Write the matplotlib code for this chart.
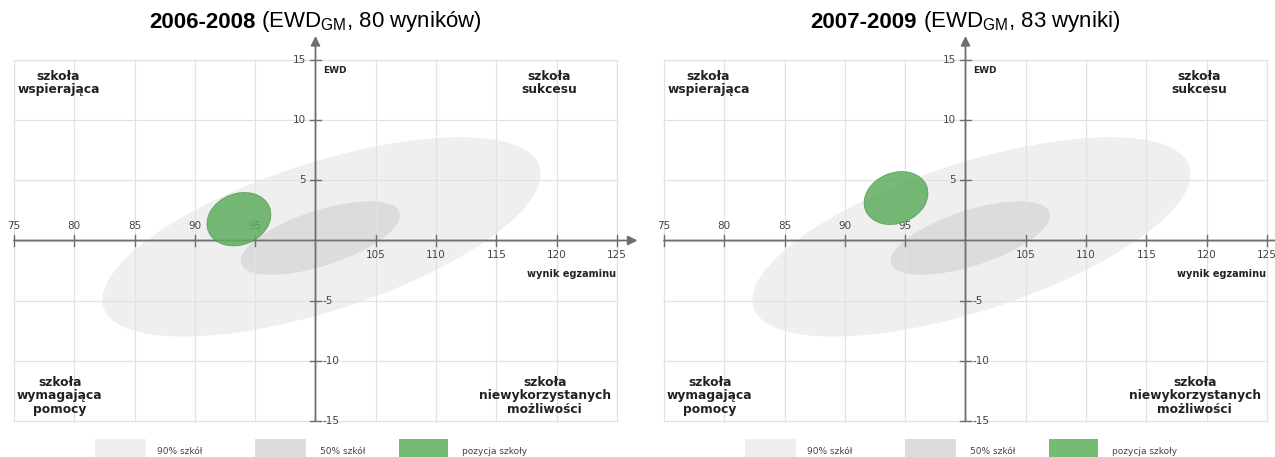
import matplotlib
matplotlib.use("Agg")
import matplotlib.pyplot as plt
from matplotlib.patches import Ellipse, Rectangle
from matplotlib.offsetbox import TextArea, HPacker, AnnotationBbox

# --- data ---
title_years = ["2006-2008", "2007-2009"]
title_rest = [" (EWD$_{\\mathregular{GM}}$, 80 wyników)",
              " (EWD$_{\\mathregular{GM}}$, 83 wyniki)"]

x_ticks = [75, 80, 85, 90, 95, 105, 110, 115, 120, 125]
y_ticks = [15, 10, 5, -5, -10, -15]

# ellipses: (center x, center y, width, height, angle)
ellipse_90 = [(100.5, 0.3, 38.0, 12.3, 18), (100.5, 0.3, 38.0, 12.3, 18)]
ellipse_50 = [(100.4, 0.2, 13.8, 4.6, 18), (100.4, 0.2, 13.8, 4.6, 18)]
school_pos = [(93.65, 1.77, 5.45, 4.25, 22), (94.24, 3.53, 5.45, 4.2, 22)]

quadrants = ["szkoła\nwspierająca", "szkoła\nsukcesu",
             "szkoła\nwymagająca\npomocy", "szkoła\nniewykorzystanych\nmożliwości"]
legend_labels = ["90% szkół", "50% szkół", "pozycja szkoły"]

LIGHT = "#efefef"
DARK = "#dcdcdc"
GREEN = "#5fae5f"
AXIS = "#6e6e6e"
GRID = "#e2e2e2"

plt.rcParams["mathtext.fontset"] = "custom"
plt.rcParams["mathtext.rm"] = "Liberation Sans"

W, H = 1275, 457
fig = plt.figure(figsize=(W / 100, H / 100), dpi=100)

px_x = 12.06
px_y = 12.03


def draw_panel(left_px, i):
    ax = fig.add_axes([left_px / W, 0, 640 / W, 1])
    x0 = 75 - 14 / px_x
    ax.set_xlim(x0, x0 + 640 / px_x)
    ax.set_ylim(-(H - 240.5) / px_y, 240.5 / px_y)
    ax.axis("off")

    for (cx, cy, w, h, a), col, z in ((ellipse_90[i], LIGHT, 1), (ellipse_50[i], DARK, 2)):
        ax.add_patch(Ellipse((cx, cy), w, h, angle=a, facecolor=col,
                             edgecolor="none", zorder=z))

    # grid
    for x in range(75, 126, 5):
        ax.plot([x, x], [-15, 15], color=GRID, lw=0.9, zorder=3)
    for y in range(-15, 16, 5):
        ax.plot([75, 125], [y, y], color=GRID, lw=0.9, zorder=3)

    # axes with arrows
    ax.annotate("", xy=(126.7, 0), xytext=(75, 0),
                arrowprops=dict(arrowstyle="-|>", color=AXIS, lw=1.3,
                                mutation_scale=14, shrinkA=0, shrinkB=0), zorder=4)
    ax.annotate("", xy=(100, 17.0), xytext=(100, -15),
                arrowprops=dict(arrowstyle="-|>", color=AXIS, lw=1.3,
                                mutation_scale=14, shrinkA=0, shrinkB=0), zorder=4)

    for x in x_ticks:
        ax.plot([x, x], [-0.45, 0.45], color=AXIS, lw=1.0, zorder=4)
        if x < 100:
            ax.text(x, 0.75, str(x), ha="center", va="bottom", fontsize=7.5,
                    color="#444444", zorder=4)
        else:
            ax.text(x, -0.75, str(x), ha="center", va="top", fontsize=7.5,
                    color="#444444", zorder=4)
    for y in y_ticks:
        ax.plot([99.55, 100.45], [y, y], color=AXIS, lw=1.0, zorder=4)
        if y > 0:
            ax.text(99.2, y, str(y), ha="right", va="center", fontsize=7.5,
                    color="#444444", zorder=4)
        else:
            ax.text(100.6, y, str(y), ha="left", va="center", fontsize=7.5,
                    color="#444444", zorder=4)

    ax.text(100.6, 14.1, "EWD", ha="left", va="center", fontsize=6.5,
            fontweight="bold", color="#222222", zorder=4)
    ax.text(124.9, -2.75, "wynik egzaminu", ha="right", va="center", fontsize=7,
            fontweight="bold", color="#222222", zorder=4)

    qpos = [(78.7, 13.1), (119.4, 13.1), (78.8, -12.9), (119.0, -12.9)]
    for (qx, qy), label in zip(qpos, quadrants):
        ax.text(qx, qy, label, ha="center", va="center", fontsize=8.8,
                fontweight="bold", color="#222222", linespacing=1.05, zorder=4)

    cx, cy, w, h, a = school_pos[i]
    ax.add_patch(Ellipse((cx, cy), w, h, angle=a, facecolor=GREEN, alpha=0.85,
                         edgecolor="#4f9a4f", lw=0.6, zorder=5))

    # title
    t1 = TextArea(title_years[i], textprops=dict(fontweight="bold", fontsize=16,
                                                  family="Liberation Sans"))
    t2 = TextArea(title_rest[i], textprops=dict(fontsize=16, family="Liberation Sans"))
    pack = HPacker(children=[t1, t2], align="baseline", pad=0, sep=0)
    ax.add_artist(AnnotationBbox(pack, (100, (240.5 - 22) / px_y), xycoords="data",
                                 frameon=False, box_alignment=(0.5, 0.5)))

    # legend
    boxes = [(95, 146, LIGHT, 157), (255, 306, DARK, 320), (399, 448, "#74bb74", 462)]
    for (b0, b1, col, tx), label in zip(boxes, legend_labels):
        ax.add_patch(Rectangle((b0 / 640, -0.02), (b1 - b0) / 640, 0.059,
                               transform=ax.transAxes, facecolor=col,
                               edgecolor="none", clip_on=False))
        ax.text(tx / 640, 6 / H, label, transform=ax.transAxes, ha="left",
                va="center", fontsize=6.5, color="#444444")


draw_panel(0, 0)
draw_panel(650, 1)

fig.savefig("out.png", dpi=100)
